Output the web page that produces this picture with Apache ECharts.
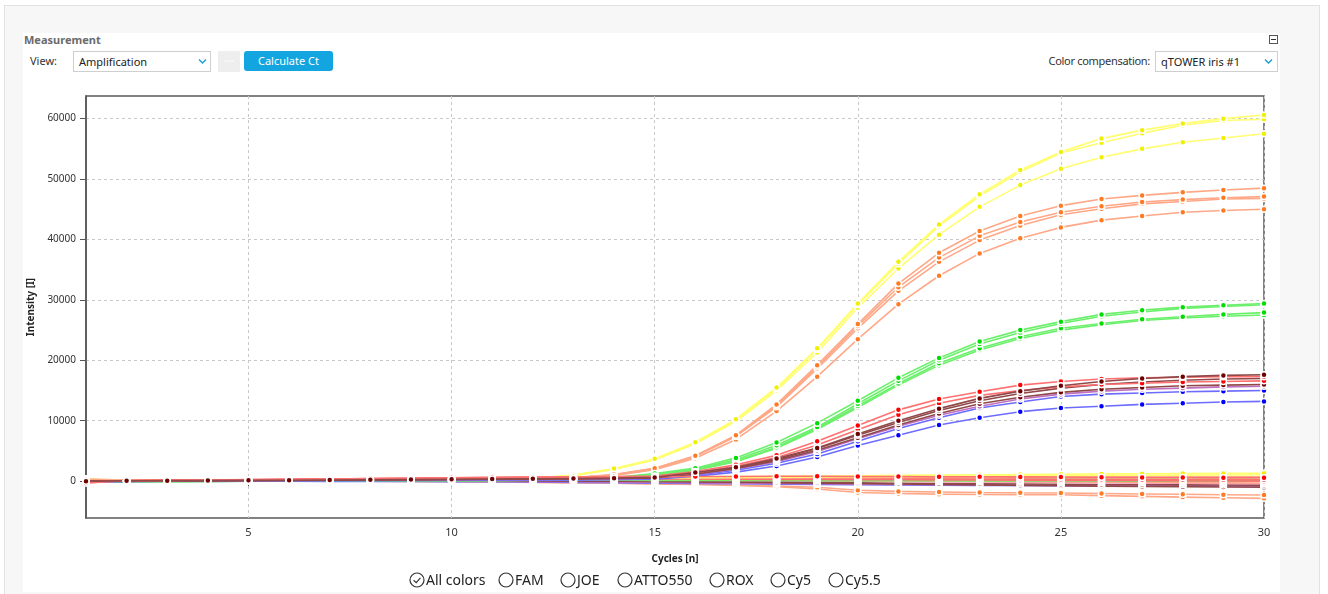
<!DOCTYPE html>
<html><head><meta charset="utf-8">
<script src="https://cdn.jsdelivr.net/npm/echarts@6/dist/echarts.min.js"></script>
<style>
html,body{margin:0;padding:0;width:1328px;height:594px;overflow:hidden;background:#fff;font-family:"Noto Sans","Open Sans",sans-serif;}
#outer{position:absolute;left:4px;top:5px;width:1314px;height:600px;background:#f7f7f7;border-top:1px solid #e2e2e2;border-left:1px solid #e2e2e2;border-right:1px solid #e2e2e2;}
#panel{position:absolute;left:23px;top:33px;width:1257px;height:559px;background:#fff;}
#chart{position:absolute;left:0;top:0;width:1328px;height:594px;}
.t{position:absolute;font-size:11px;color:#333;white-space:nowrap;line-height:20px;}
.box{position:absolute;border:1px solid #cfcfcf;background:#fff;box-sizing:border-box;height:21px;}
.box span{position:absolute;left:5px;top:0;font-size:11px;line-height:19px;color:#222;}
.box svg{position:absolute;top:6px;}
.leg{position:absolute;top:570px;height:20px;font-size:14px;color:#222;line-height:20px;white-space:nowrap;}
.leg svg{position:absolute;left:0;top:2px;}
.leg span{position:absolute;left:17px;top:0;}
</style></head>
<body>
<div id="outer"></div>
<div id="panel"></div>
<div class="t" style="left:24px;top:30px;font-weight:bold;color:#6b6b6b;">Measurement</div>
<svg style="position:absolute;left:1269px;top:35px" width="9" height="9"><rect x="0.5" y="0.5" width="8" height="8" fill="#fff" stroke="#555"/><line x1="2" y1="4.5" x2="7" y2="4.5" stroke="#333"/></svg>
<div class="t" style="left:30px;top:51px;">View:</div>
<div class="box" style="left:73px;top:51px;width:138px;"><span>Amplification</span><svg style="left:124px" width="9" height="7"><polyline points="1,1.5 4.5,5 8,1.5" fill="none" stroke="#1a9cd8" stroke-width="1.4"/></svg></div>
<div style="position:absolute;left:218px;top:51px;width:22px;height:21px;background:#eeeeee;color:#fafafa;font-size:12px;font-weight:bold;line-height:19px;text-align:center;">···</div>
<div style="position:absolute;left:244px;top:51px;width:89px;height:20px;background:#12a5e0;border-radius:3px;color:#fff;font-size:11px;line-height:20px;text-align:center;">Calculate Ct</div>
<div class="t" style="right:178px;top:51px;letter-spacing:-0.3px;">Color compensation:</div>
<div class="box" style="left:1155px;top:51px;width:123px;"><span>qTOWER iris #1</span><svg style="left:108px" width="9" height="7"><polyline points="1,1.5 4.5,5 8,1.5" fill="none" stroke="#1a9cd8" stroke-width="1.4"/></svg></div>
<div id="chart"></div>
<div class="leg" style="left:409px;"><svg width="16" height="16"><circle cx="8" cy="8" r="7" fill="none" stroke="#333" stroke-width="1.2"/><polyline points="4.6,8.2 7.2,10.6 11.4,5.8" fill="none" stroke="#333" stroke-width="1.2"/></svg><span>All colors</span></div>
<div class="leg" style="left:498px;"><svg width="16" height="16"><circle cx="8" cy="8" r="7" fill="none" stroke="#333" stroke-width="1.2"/></svg><span>FAM</span></div>
<div class="leg" style="left:560px;"><svg width="16" height="16"><circle cx="8" cy="8" r="7" fill="none" stroke="#333" stroke-width="1.2"/></svg><span>JOE</span></div>
<div class="leg" style="left:617px;"><svg width="16" height="16"><circle cx="8" cy="8" r="7" fill="none" stroke="#333" stroke-width="1.2"/></svg><span>ATTO550</span></div>
<div class="leg" style="left:709px;"><svg width="16" height="16"><circle cx="8" cy="8" r="7" fill="none" stroke="#333" stroke-width="1.2"/></svg><span>ROX</span></div>
<div class="leg" style="left:770px;"><svg width="16" height="16"><circle cx="8" cy="8" r="7" fill="none" stroke="#333" stroke-width="1.2"/></svg><span>Cy5</span></div>
<div class="leg" style="left:828px;"><svg width="16" height="16"><circle cx="8" cy="8" r="7" fill="none" stroke="#333" stroke-width="1.2"/></svg><span>Cy5.5</span></div>
<script>
const cycles = [1,2,3,4,5,6,7,8,9,10,11,12,13,14,15,16,17,18,19,20,21,22,23,24,25,26,27,28,29,30];
const xTicks = [5,10,15,20,25,30];
const yTicks = [0,10000,20000,30000,40000,50000,60000];

// rising curves
const yellow1 = [120,80,60,90,110,130,150,170,200,260,330,480,1000,2100,3700,6450,10250,15500,22000,29400,36300,42500,47500,51500,54500,56700,58100,59200,60000,60600];
const yellow2 = [100,70,50,70,90,110,130,150,180,230,300,450,950,2000,3600,6350,10100,15300,21800,29200,36000,42200,47200,51200,54300,56000,57600,58900,59700,59900];
const yellow3 = [90,60,40,60,80,100,120,140,160,210,280,420,900,1950,3500,6200,9900,15000,21300,28700,35200,40800,45400,49000,51700,53600,55000,56100,56800,57500];

const orange1 = [250,150,120,140,160,190,220,250,280,320,360,420,600,1100,2150,4200,7600,12700,19200,26000,32700,37800,41400,43900,45600,46700,47300,47800,48200,48500];
const orange2 = [200,130,100,120,150,170,200,230,260,300,340,400,570,1050,2100,4150,7500,12500,18900,25700,32100,37000,40600,42900,44500,45500,46200,46600,46900,47100];
const orange3 = [180,110,90,110,130,160,190,210,240,280,320,380,540,1000,2000,4100,7400,12300,18600,25300,31500,36300,39900,42300,44100,45100,45900,46300,46700,46800];
const orange4 = [150,100,80,100,120,140,170,190,220,260,300,350,500,950,1900,3800,6900,11600,17300,23500,29300,34000,37700,40200,42000,43200,43900,44500,44800,45000];

const green1 = [-100,-60,-40,-20,0,20,40,60,80,110,140,180,300,600,1250,2150,3850,6400,9600,13300,17100,20400,23100,25000,26400,27600,28300,28800,29100,29400];
const green2 = [-120,-80,-50,-30,-10,10,30,50,70,100,130,160,280,550,1150,2000,3550,5950,8950,12800,16600,20000,22700,24600,26100,27300,28000,28600,28900,29200];
const green3 = [-80,-50,-40,-20,0,20,30,50,70,90,120,150,260,500,1050,1900,3300,5600,8750,12450,16150,19500,22000,23900,25300,26100,26800,27200,27600,27900];
const green4 = [-100,-70,-50,-30,-10,10,20,40,60,80,110,140,240,480,1000,1800,3200,5450,8550,12200,15900,19200,21700,23600,25000,25900,26600,27000,27300,27500];

const red1 = [-200,100,150,200,250,300,350,420,480,550,600,650,700,750,850,1600,2700,4300,6600,9200,11800,13600,14800,15900,16500,16900,17100,17200,17300,17300];
const red2 = [-150,80,130,180,220,270,320,380,440,500,560,600,640,680,750,1400,2450,3900,6000,8500,11000,12900,14200,15000,15600,16000,16200,16400,16500,16600];
const dark1 = [0,50,80,100,130,160,200,240,280,320,360,400,450,500,620,1420,2300,3750,5500,7800,10000,12000,13700,14900,15800,16500,17000,17300,17500,17600];
const dark2 = [-20,30,60,90,120,150,180,220,260,300,340,380,420,470,560,1300,2200,3600,5400,7600,9700,11700,13300,14500,15400,16000,16400,16700,16900,17000];
const dark3 = [-40,20,50,70,100,130,160,200,240,280,320,350,390,440,520,1200,2100,3400,5100,7200,9300,11200,12800,13900,14700,15200,15500,15800,15900,16000];
const purple1 = [-60,0,30,50,80,110,140,170,200,240,270,300,340,400,470,1100,2000,3200,4900,7000,9100,10900,12400,13600,14400,14900,15200,15400,15600,15700];
const blue1 = [-100,-30,0,20,40,60,80,100,120,150,180,210,250,320,420,1000,1800,2950,4500,6600,8700,10500,12100,13100,14000,14400,14600,14800,14900,15000];
const blue2 = [-120,-50,-20,0,20,40,60,80,100,120,150,180,210,260,320,800,1500,2500,4000,5900,7600,9300,10500,11500,12100,12400,12700,12900,13100,13200];

// flat (negative) curves
const flatYellow1 = [300,150,120,150,180,220,260,300,340,400,450,500,560,600,650,700,760,800,850,900,960,1000,1050,1100,1150,1200,1220,1250,1280,1300];
const flatYellow2 = [250,100,90,120,150,180,210,250,290,330,380,420,470,500,540,580,620,660,700,740,780,820,850,880,910,950,980,1000,1020,1050];
const flatOrange1 = [400,120,100,130,170,200,240,280,320,370,400,430,460,480,500,510,530,540,560,580,600,610,620,640,650,660,670,690,700,700];
const flatRed1 = [-300,80,120,180,240,300,360,420,480,560,620,660,700,720,740,760,780,800,800,780,760,740,720,700,680,650,620,600,570,550];
const flatRed2 = [-250,50,90,140,190,240,280,320,360,400,420,430,420,400,380,350,320,300,280,250,230,200,180,150,120,100,80,50,30,0];
const flatRed3 = [-100,60,100,160,220,280,340,400,460,520,560,590,600,590,570,540,510,480,450,420,400,380,360,340,320,300,280,260,250,240];
const flatDark1 = [0,40,60,80,100,120,130,140,150,150,140,120,80,40,0,-80,-160,-240,-320,-400,-480,-550,-620,-700,-760,-820,-880,-930,-980,-1020];
const flatDark2 = [-50,20,40,60,80,100,110,120,120,110,90,70,40,0,-40,-90,-140,-190,-240,-290,-340,-390,-430,-470,-510,-550,-580,-610,-640,-660];
const flatPurple = [-80,0,20,30,40,50,50,40,30,10,-20,-60,-100,-150,-200,-260,-320,-380,-440,-500,-550,-600,-640,-680,-720,-750,-780,-800,-820,-840];
const flatOlive = [100,50,60,80,100,120,140,160,180,200,220,240,250,260,270,280,290,300,300,310,310,320,320,330,330,340,340,350,350,360];
const flatBlue = [-150,-60,-40,-30,-20,-20,-30,-40,-60,-80,-110,-150,-200,-260,-320,-380,-440,-500,-560,-600,-640,-680,-700,-720,-740,-760,-780,-800,-810,-820];
const flatPink = [-200,0,50,100,150,180,200,220,240,250,250,240,220,200,170,140,100,60,20,-20,-60,-100,-140,-180,-220,-260,-300,-340,-380,-420];
const flatOrange2 = [300,100,120,150,180,210,240,270,300,320,330,330,320,300,280,250,220,180,140,100,60,20,-20,-60,-100,-140,-180,-220,-260,-300];
const flatGreen = [-50,0,20,40,60,80,100,110,120,130,140,140,140,140,130,120,110,100,90,80,70,60,50,40,30,20,10,0,-10,-20];
const flatOrange3 = [200,80,60,50,40,30,20,0,-30,-70,-120,-180,-250,-330,-420,-520,-650,-800,-1000,-1500,-1700,-1800,-1880,-1930,-1970,-2050,-2120,-2180,-2240,-2300];
const flatOrange4 = [150,60,40,30,20,10,0,-20,-50,-90,-140,-200,-270,-350,-450,-560,-700,-900,-1300,-1880,-2050,-2150,-2200,-2230,-2260,-2400,-2520,-2640,-2750,-2850];

const FONT = '"Noto Sans","Open Sans",sans-serif';
function mk(data, dot, line) {
  return {
    type: 'line',
    data: cycles.map((c, i) => [c, data[i]]),
    symbol: 'circle', symbolSize: 6, showSymbol: true, showAllSymbol: true,
    itemStyle: { color: dot, borderColor: '#fff', borderWidth: 1.5 },
    lineStyle: { color: line, width: 1.6 },
    emphasis: { disabled: true }, silent: true, animation: false
  };
}
const C = {
  yellow: ['#f0f000', '#ffff70'],
  orange: ['#ff7a22', '#ffa888'],
  green: ['#00dd00', '#6cf06c'],
  red: ['#ff0000', '#ff7070'],
  dark: ['#700000', '#904848'],
  purple: ['#a020a0', '#c070c0'],
  blue: ['#0000ff', '#6c6cff'],
  olive: ['#a0a000', '#c8c860'],
  pink: ['#ff3c8c', '#ff98bc']
};
const series = [
  mk(flatOrange4, ...C.orange), mk(flatOrange3, ...C.orange),
  mk(flatBlue, ...C.blue), mk(flatPurple, ...C.purple), mk(flatDark1, ...C.dark), mk(flatDark2, ...C.dark),
  mk(flatPink, ...C.pink), mk(flatOrange2, ...C.orange), mk(flatGreen, ...C.green), mk(flatOlive, ...C.olive),
  mk(flatRed2, ...C.red), mk(flatRed3, ...C.red), mk(flatOrange1, ...C.orange),
  mk(flatYellow2, ...C.yellow), mk(flatYellow1, ...C.yellow),
  mk(yellow3, ...C.yellow), mk(yellow2, ...C.yellow), mk(yellow1, ...C.yellow),
  mk(orange4, ...C.orange), mk(orange3, ...C.orange), mk(orange2, ...C.orange), mk(orange1, ...C.orange),
  mk(green4, ...C.green), mk(green3, ...C.green), mk(green2, ...C.green), mk(green1, ...C.green),
  mk(blue2, ...C.blue), mk(blue1, ...C.blue), mk(purple1, ...C.purple),
  mk(dark3, ...C.dark), mk(dark2, ...C.dark), mk(red2, ...C.red), mk(red1, ...C.red),
  mk(flatRed1, ...C.red), mk(dark1, ...C.dark)
];
const chart = echarts.init(document.getElementById('chart'), null, { renderer: 'canvas' });
chart.setOption({
  animation: false,
  textStyle: { fontFamily: FONT },
  grid: { left: 86, top: 96, width: 1178, height: 422, show: true, borderColor: '#5a5a5a', borderWidth: 1.5, backgroundColor: 'transparent' },
  xAxis: {
    type: 'value', min: 1, max: 30,
    name: 'Cycles [n]', nameLocation: 'middle', nameGap: 36,
    nameTextStyle: { fontWeight: 'bold', fontSize: 10, color: '#222', fontFamily: FONT },
    axisLine: { lineStyle: { color: '#555', width: 1.5 } },
    axisTick: { show: true, length: 5, customValues: xTicks, lineStyle: { color: '#555' } },
    axisLabel: { customValues: xTicks, fontSize: 11, color: '#333', margin: 9, fontFamily: FONT, formatter: v => String(v) },
    splitLine: { show: true, lineStyle: { color: '#c8c8c8', type: [3, 3] } }
  },
  yAxis: {
    type: 'value', min: -6100, max: 63750,
    name: 'Intensity [I]', nameLocation: 'middle', nameGap: 48, nameRotate: 90,
    nameTextStyle: { fontWeight: 'bold', fontSize: 10, color: '#222', fontFamily: FONT },
    axisLine: { show: true, lineStyle: { color: '#555', width: 1.5 } },
    axisTick: { show: true, length: 6, customValues: yTicks, lineStyle: { color: '#555' } },
    axisLabel: { customValues: yTicks, fontSize: 10, color: '#333', margin: 10, fontFamily: FONT, formatter: v => String(v) },
    splitLine: { show: true, lineStyle: { color: '#c8c8c8', type: [3, 3] } }
  },
  series: series
});
</script>
</body></html>
